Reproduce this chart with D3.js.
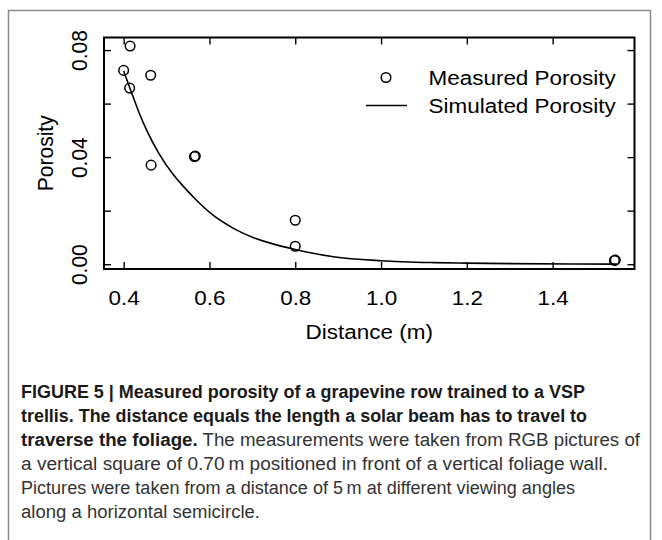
<!DOCTYPE html>
<html>
<head>
<meta charset="utf-8">
<script src="https://cdn.jsdelivr.net/npm/d3@7"></script>
<style>
  body { margin: 0; background: #fff; }
  text { font-family: "Liberation Sans", Arial, Helvetica, sans-serif; }
</style>
</head>
<body>
<script>
(function (d3) {

  'use strict'
  const w = 662
  const h = 540

  // measured points (distance m, porosity)
  const measuredDist = [0.400, 0.415, 0.414, 0.463, 0.464, 0.565, 0.567, 0.800, 0.800, 1.544, 1.546]
  const measuredPor  = [0.0724, 0.0815, 0.0658, 0.0706, 0.0370, 0.0402, 0.0404, 0.0164, 0.0067, 0.0014, 0.0015]

  // simulated curve
  const simDist = [0.400, 0.416, 0.436, 0.455, 0.482, 0.517, 0.533, 0.571, 0.610, 0.657, 0.703, 0.750, 0.800, 0.835, 0.889, 1.000, 1.122, 1.199, 1.300, 1.450, 1.550]
  const simPor  = [0.0722, 0.0652, 0.0566, 0.0496, 0.0414, 0.0332, 0.0302, 0.0237, 0.0181, 0.0133, 0.0099, 0.0075, 0.0055, 0.0043, 0.0028, 0.0013, 0.0006, 0.0004, 0.0002, 0.00006, 0.00003]

  const xTicks = [0.4, 0.6, 0.8, 1.0, 1.2, 1.4]
  const yTicks = [0, 0.02, 0.04, 0.06, 0.08]
  const yLabelled = [0, 0.04, 0.08]

  const legendLabels = ['Measured Porosity', 'Simulated Porosity']

  const captionLines = [
    [{ t: 'FIGURE 5 | Measured porosity of a grapevine row trained to a VSP', b: true }],
    [{ t: 'trellis. The distance equals the length a solar beam has to travel to', b: true }],
    [{ t: 'traverse the foliage.', b: true }, { t: ' The measurements were taken from RGB pictures of', b: false }],
    [{ t: 'a vertical square of 0.70\u2009m positioned in front of a vertical foliage wall.', b: false }],
    [{ t: 'Pictures were taken from a distance of 5\u2009m at different viewing angles', b: false }],
    [{ t: 'along a horizontal semicircle.', b: false }]
  ]
  // right end of each caption line
  const captionEnds = [585, 587, 640, 608, 575, 260]

  const plot = { left: 104, right: 634.5, top: 37.5, bottom: 269 }
  const fs = 21
  const sx = 1.07

  const svg = d3.select('body').append('svg')
    .attr('width', w)
    .attr('height', h)

  // figure border
  svg.append('rect')
    .attr('x', 8.5).attr('y', 10.5)
    .attr('width', 642).attr('height', h)
    .attr('fill', 'none')
    .attr('stroke', '#8a8a8a')
    .attr('stroke-width', 1.5)

  const x = d3.scaleLinear().domain([0.3542, 1.5908]).range([plot.left, plot.right])
  const y = d3.scaleLinear().domain([-0.0018, 0.0847]).range([plot.bottom, plot.top])

  const g = svg.append('g')

  // ticks, all pointing inward
  const tk = 7
  const bottomAxis = g.append('g')
    .attr('transform', 'translate(0,' + plot.bottom + ')')
    .call(d3.axisBottom(x).tickValues(xTicks).tickSize(-tk).tickFormat(d3.format('.1f')))
  bottomAxis.selectAll('text')
    .attr('y', null).attr('dy', null)
    .attr('transform', 'translate(0,36) scale(' + sx + ',1)')

  const leftAxis = g.append('g')
    .attr('transform', 'translate(' + plot.left + ',0)')
    .call(d3.axisLeft(y).tickValues(yTicks).tickSize(-tk)
      .tickFormat(d => yLabelled.some(v => Math.abs(v - d) < 1e-9) ? d3.format('.2f')(d) : ''))
  leftAxis.selectAll('text')
    .attr('x', null).attr('dy', null)
    .attr('text-anchor', 'middle')
    .attr('transform', 'translate(-17.5,0) scale(' + sx + ',1) rotate(-90)')

  g.append('g')
    .attr('transform', 'translate(0,' + plot.top + ')')
    .call(d3.axisTop(x).tickValues(xTicks).tickSize(-tk).tickFormat(''))
  g.append('g')
    .attr('transform', 'translate(' + plot.right + ',0)')
    .call(d3.axisRight(y).tickValues(yTicks).tickSize(-tk).tickFormat(''))

  g.selectAll('.domain').remove()
  g.selectAll('.tick line').attr('stroke', '#000').attr('stroke-width', 1.4)
  g.selectAll('.tick text')
    .attr('font-size', fs)
    .attr('font-family', '"Liberation Sans", Arial, sans-serif')
    .attr('fill', '#000')

  // frame
  g.append('rect')
    .attr('x', plot.left).attr('y', plot.top)
    .attr('width', plot.right - plot.left)
    .attr('height', plot.bottom - plot.top)
    .attr('fill', 'none')
    .attr('stroke', '#000')
    .attr('stroke-width', 2)

  // simulated curve
  const line = d3.line()
    .x((d) => x(d[0]))
    .y((d) => y(d[1]))
    .curve(d3.curveMonotoneX)

  g.append('path')
    .datum(simDist.map((d, i) => [d, simPor[i]]))
    .attr('d', line)
    .attr('fill', 'none')
    .attr('stroke', '#000')
    .attr('stroke-width', 1.6)

  // measured points
  g.append('g')
    .selectAll('circle')
    .data(measuredDist.map((d, i) => [d, measuredPor[i]]))
    .enter().append('circle')
    .attr('cx', (d) => x(d[0]))
    .attr('cy', (d) => y(d[1]))
    .attr('r', 4.8)
    .attr('fill', 'none')
    .attr('stroke', '#000')
    .attr('stroke-width', 1.5)

  // legend
  const lg = g.append('g')
  lg.append('circle')
    .attr('cx', 386).attr('cy', 77.5).attr('r', 4.8)
    .attr('fill', 'none').attr('stroke', '#000').attr('stroke-width', 1.5)
  lg.append('line')
    .attr('x1', 366).attr('x2', 407).attr('y1', 105.5).attr('y2', 105.5)
    .attr('stroke', '#000').attr('stroke-width', 1.6)
  lg.selectAll('text')
    .data(legendLabels)
    .enter().append('text')
    .attr('transform', (d, i) => 'translate(428.5,' + (85 + i * 28) + ') scale(' + sx + ',1)')
    .attr('font-size', fs)
    .text((d) => d)

  // axis titles
  g.append('text')
    .attr('transform', 'translate(' + ((plot.left + plot.right) / 2) + ',339) scale(' + sx + ',1)')
    .attr('text-anchor', 'middle')
    .attr('font-size', fs)
    .text('Distance (m)')

  g.append('text')
    .attr('transform', 'translate(52.5,' + ((plot.top + plot.bottom) / 2) + ') scale(' + sx + ',1) rotate(-90)')
    .attr('text-anchor', 'middle')
    .attr('font-size', fs)
    .text('Porosity')

  // caption
  const cap = svg.append('g')
  captionLines.forEach((parts, li) => {
    const t = cap.append('text')
      .attr('x', 21)
      .attr('y', 398 + li * 24)
      .attr('font-size', 18)
      .attr('textLength', captionEnds[li] - 21)
      .attr('lengthAdjust', 'spacingAndGlyphs')
    parts.forEach((p) => {
      t.append('tspan')
        .attr('font-weight', p.b ? 'bold' : 'normal')
        .attr('fill', p.b ? '#1a1a1a' : '#333')
        .text(p.t)
    })
  })

}(d3))
</script>
</body>
</html>
